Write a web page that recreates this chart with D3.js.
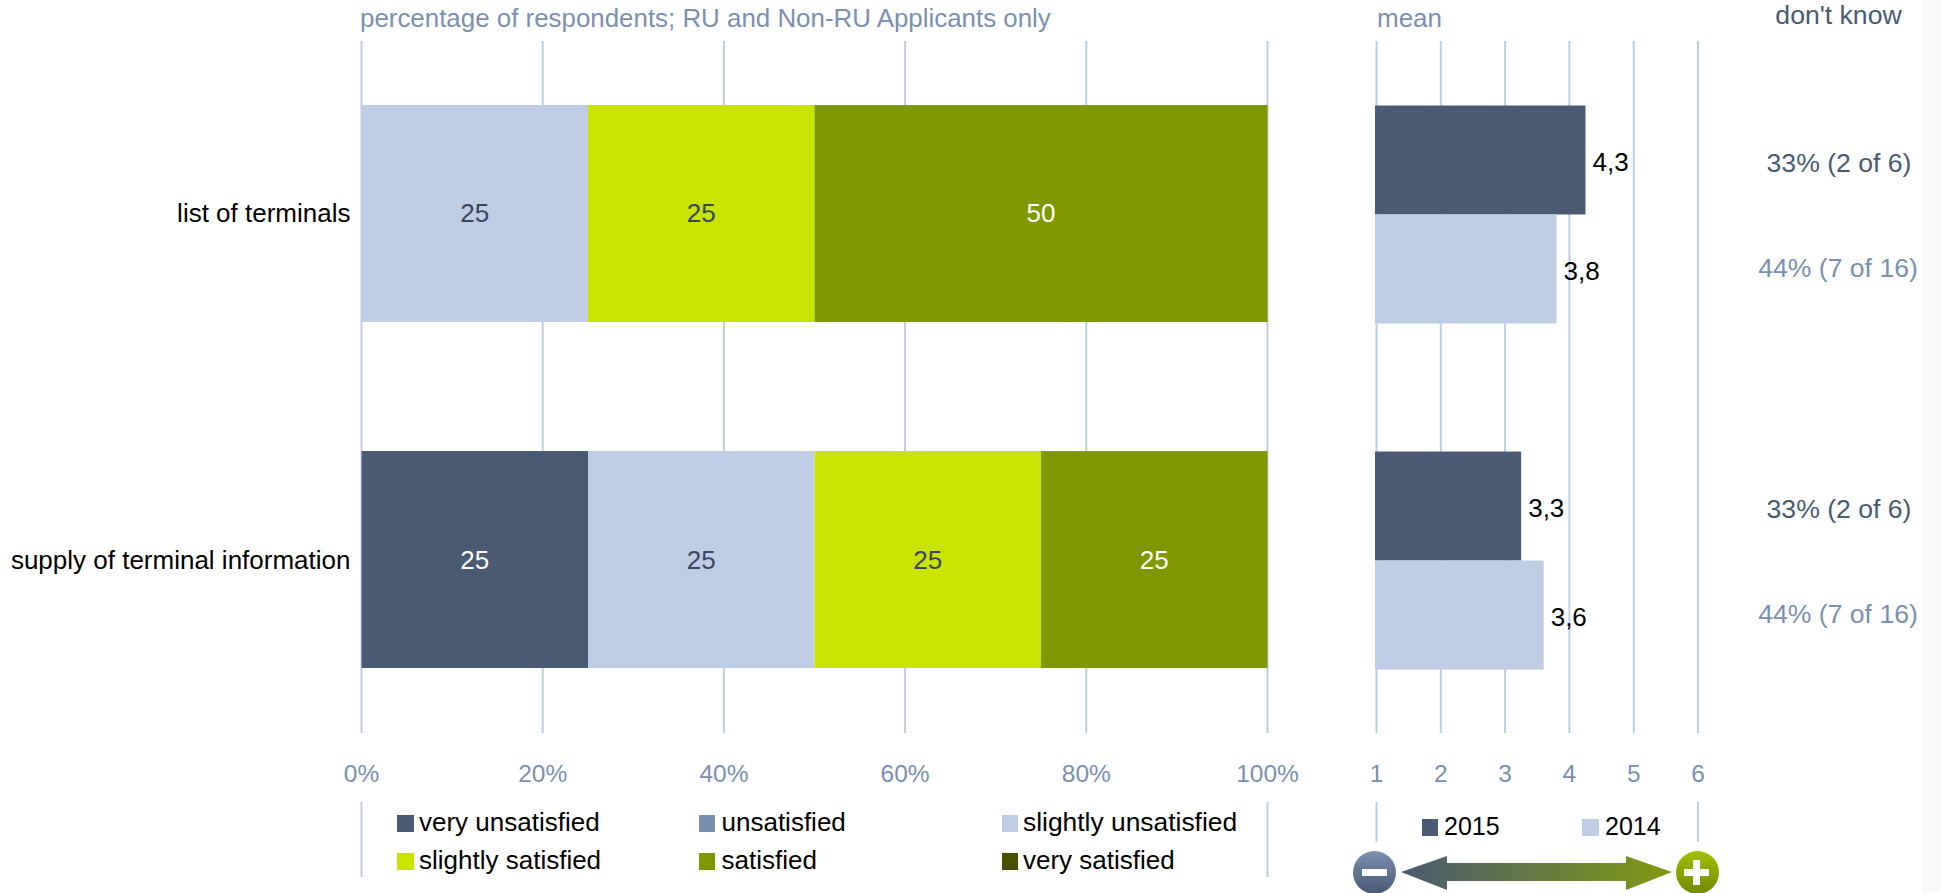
<!DOCTYPE html>
<html><head><meta charset="utf-8"><style>html,body{margin:0;padding:0;background:#fff;overflow:hidden}svg{display:block}text{font-family:"Liberation Sans",Arial,sans-serif}</style>
<script src="https://cdn.jsdelivr.net/npm/d3@7"></script></head><body><script>
const categories=["list of terminals","supply of terminal information"];
const responses=["very unsatisfied","unsatisfied","slightly unsatisfied","slightly satisfied","satisfied","very satisfied"];
const responseColors=["#4a5a73","#7b8fb0","#bfcde4","#c8e400","#809800","#485000"];
const labelColors=["#ffffff","#ffffff","#3a4660","#3a4660","#ffffff","#ffffff"];
const listOfTerminals=[0,0,25,25,50,0];
const supplyOfTerminalInfo=[25,0,25,25,25,0];
const means2015=[4.25,3.25];
const means2014=[3.8,3.6];
const dontKnow2015=["33% (2 of 6)","33% (2 of 6)"];
const dontKnow2014=["44% (7 of 16)","44% (7 of 16)"];
const pctTicks=[0,20,40,60,80,100];
const meanTicks=[1,2,3,4,5,6];
const W=1941,H=893,F=26;
const grid="#bfcde4",tick="#7b8fb0",dark="#4a5a73";
const svg=d3.select("body").append("svg").attr("width",W).attr("height",H);
const defs=svg.append("defs");
const ag=defs.append("linearGradient").attr("id","arrowG");
ag.append("stop").attr("offset","0").attr("stop-color","#4a5a73");
ag.append("stop").attr("offset","1").attr("stop-color","#809a10");
const mg=defs.append("linearGradient").attr("id","minusG").attr("x2",0).attr("y2",1);
mg.append("stop").attr("offset","0").attr("stop-color","#7b8fb0");mg.append("stop").attr("offset","1").attr("stop-color","#4a5a73");
const pg=defs.append("linearGradient").attr("id","plusG").attr("x2",0).attr("y2",1);
pg.append("stop").attr("offset","0").attr("stop-color","#a5bf00");pg.append("stop").attr("offset","1").attr("stop-color","#6f8a00");

svg.append("rect").attr("x",1922).attr("y",0).attr("width",19).attr("height",H).attr("fill","#f9f9fc");

const x=d3.scaleLinear().domain([0,100]).range([361.5,1267.5]);
const xm=d3.scaleLinear().domain([1,6]).range([1376.5,1698]);
const y=d3.scaleBand().domain(categories).range([105,668]).paddingInner(0.373).paddingOuter(0);
const ym=d3.scaleBand().domain(["2015","2014"]);
const txt=(g,x0,y0,s,fill,anchor="start",size=F)=>g.append("text").attr("x",x0).attr("y",y0).attr("fill",fill).attr("text-anchor",anchor).attr("font-size",size).text(s);

// grid lines
const gridG=svg.append("g").attr("stroke",grid).attr("stroke-width",2);
pctTicks.forEach(t=>gridG.append("line").attr("x1",x(t)).attr("x2",x(t)).attr("y1",41).attr("y2",733));
meanTicks.forEach(t=>gridG.append("line").attr("x1",xm(t)).attr("x2",xm(t)).attr("y1",41).attr("y2",733));
[x(0),x(100)].forEach(v=>gridG.append("line").attr("x1",v).attr("x2",v).attr("y1",802).attr("y2",877));
[xm(1),xm(6)].forEach(v=>gridG.append("line").attr("x1",v).attr("x2",v).attr("y1",802).attr("y2",842));

// stacked bars
[listOfTerminals,supplyOfTerminalInfo].forEach((vals,i)=>{
  let cum=0;
  const g=svg.append("g");
  vals.forEach((v,j)=>{
    if(v>0){
      const x0=x(cum),x1=x(cum+v);
      g.append("rect").attr("x",x0).attr("y",y(categories[i])).attr("width",x1-x0).attr("height",y.bandwidth()).attr("fill",responseColors[j]);
      txt(g,(x0+x1)/2,y(categories[i])+y.bandwidth()/2+9,v,labelColors[j],"middle");
    }
    cum+=v;
  });
  txt(svg,350.5,y(categories[i])+y.bandwidth()/2+9,categories[i],"#000","end");
});

// mean bars
categories.forEach((c,i)=>{
  const b=y(c);
  ym.range([b+0.5,b+218.5]);
  [[means2015[i],dark,"2015"],[means2014[i],grid,"2014"]].forEach(([v,col,k])=>{
    svg.append("rect").attr("x",1375).attr("y",ym(k)).attr("width",xm(v)-1375).attr("height",ym.bandwidth()).attr("fill",col);
    txt(svg,xm(v)+7,ym(k)+ym.bandwidth()/2+11,v.toFixed(1).replace(".",","),"#000");
  });
  txt(svg,1839,ym("2015")+ym.bandwidth()/2+12,dontKnow2015[i],dark,"middle",26.6);
  txt(svg,1838,ym("2014")+ym.bandwidth()/2+8,dontKnow2014[i],tick,"middle",26.6);
});

// headers
txt(svg,360,27,"percentage of respondents; RU and Non-RU Applicants only",tick,"start",25.9);
txt(svg,1377,27,"mean",tick);
txt(svg,1838.5,24,"don't know",dark,"middle",26.6);

// tick labels
pctTicks.forEach(t=>txt(svg,x(t),782,t+"%",tick,"middle",24.5));
meanTicks.forEach(t=>txt(svg,xm(t),782,t,tick,"middle",24.5));

// legend
const legX=[397,699,1002];
const legT=[419,721.5,1023];
responses.forEach((r,i)=>{
  const c=i%3,ly=i<3?815:853;
  svg.append("rect").attr("x",legX[c]).attr("y",ly).attr("width",c==0?17:16).attr("height",17).attr("fill",responseColors[i]);
  txt(svg,legT[c],ly+16,r,"#000","start",c==2&&i<3?26.4:26);
});
[["2015",dark,1422,1444,16],["2014",grid,1582,1605,17]].forEach(([s,c,rx,tx,w])=>{
  svg.append("rect").attr("x",rx).attr("y",819).attr("width",w).attr("height",17).attr("fill",c);
  txt(svg,tx,835,s,"#000","start",25);
});

// scale arrow
const arrow=d3.path();
arrow.moveTo(1401,872);arrow.lineTo(1447,856);arrow.lineTo(1447,863);arrow.lineTo(1626,863);arrow.lineTo(1626,856);arrow.lineTo(1672,872);arrow.lineTo(1626,890);arrow.lineTo(1626,881);arrow.lineTo(1447,881);arrow.lineTo(1447,890);arrow.closePath();
svg.append("path").attr("d",arrow.toString()).attr("fill","url(#arrowG)");
svg.append("circle").attr("cx",1374.5).attr("cy",872.5).attr("r",21.5).attr("fill","url(#minusG)");
svg.append("rect").attr("x",1362).attr("y",869).attr("width",25).attr("height",7).attr("fill","#fff");
svg.append("circle").attr("cx",1697.5).attr("cy",872.5).attr("r",21.5).attr("fill","url(#plusG)");
svg.append("rect").attr("x",1684).attr("y",869).attr("width",25).attr("height",7).attr("fill","#fff");
svg.append("rect").attr("x",1693).attr("y",860).attr("width",7).attr("height",25).attr("fill","#fff");
</script></body></html>
